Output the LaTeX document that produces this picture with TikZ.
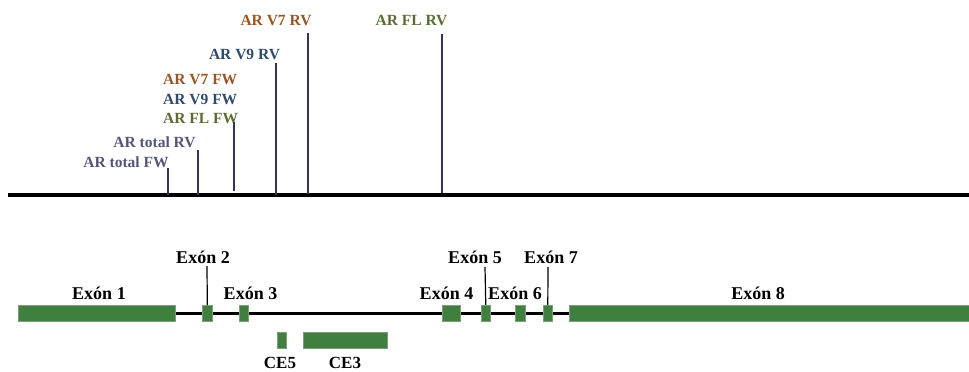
\documentclass[tikz,border=0pt]{standalone}
\usepackage{fontspec}
\setmainfont{Liberation Serif}
\definecolor{cvseven}{HTML}{9A5524}
\definecolor{cvnine}{HTML}{2F4A6A}
\definecolor{cfl}{HTML}{5A6B34}
\definecolor{ctotal}{HTML}{55557A}
\definecolor{ctick}{HTML}{34345A}
\definecolor{exfill}{HTML}{3F803F}
\definecolor{exedge}{HTML}{7E9E7E}
\begin{document}
\begin{tikzpicture}[x=1pt,y=-1pt,
  primer/.style={inner sep=0pt,font=\fontsize{15.5}{15.5}\selectfont\bfseries},
  exlabel/.style={inner sep=0pt,font=\fontsize{18}{18}\selectfont\bfseries},
  celabel/.style={inner sep=0pt,font=\fontsize{17}{17}\selectfont\bfseries},
  tick/.style={draw=ctick,line width=1.5pt},
  extick/.style={draw=black,line width=1.2pt},
  exonbox/.style={draw=exedge,line width=0.6pt,fill=exfill}]
\useasboundingbox (0,0) rectangle (969,372);
% top axis
\coordinate (axL) at (8,195);
\coordinate (axR) at (969,195);
\draw[line width=4pt] (axL) -- (axR);
% primer labels
\node[primer,text=ctotal] (tfw) at (126,162) {AR total FW};
\node[primer,text=ctotal] (trv) at (154.5,142) {AR total RV};
\node[primer,text=cfl,anchor=west] (flfw) at (163,118) {AR FL FW};
\node[primer,text=cvnine,anchor=west] (v9fw) at (163,99) {AR V9 FW};
\node[primer,text=cvseven,anchor=west] (v7fw) at (163,80) {AR V7 FW};
\node[primer,text=cvnine] (v9rv) at (244.5,54) {AR V9 RV};
\node[primer,text=cvseven] (v7rv) at (276,21) {AR V7 RV};
\node[primer,text=cfl] (flrv) at (411.5,21) {AR FL RV};
% primer ticks
\coordinate (t1a) at (168,168); \coordinate (t1b) at (168,195);
\coordinate (t2a) at (198,150); \coordinate (t2b) at (198,195);
\coordinate (t3a) at (234,122); \coordinate (t3b) at (234,191);
\coordinate (t4a) at (276,63);  \coordinate (t4b) at (276,195);
\coordinate (t5a) at (308,33);  \coordinate (t5b) at (308,194);
\coordinate (t6a) at (442,34);  \coordinate (t6b) at (442,193);
\foreach \i in {1,...,6} \draw[tick] (t\i a) -- (t\i b);
% gene line
\coordinate (gL) at (175,313);
\coordinate (gR) at (569,313);
\draw[line width=3pt] (gL) -- (gR);
% exons
\node[exonbox,inner sep=0,minimum width=157pt,minimum height=16pt,anchor=north west] (e1) at (18,305) {};
\node[exonbox,inner sep=0,minimum width=10pt,minimum height=16pt,anchor=north west] (e2) at (202,305) {};
\node[exonbox,inner sep=0,minimum width=9pt,minimum height=16pt,anchor=north west] (e3) at (239,305) {};
\node[exonbox,inner sep=0,minimum width=18pt,minimum height=16pt,anchor=north west] (e4) at (442,305) {};
\node[exonbox,inner sep=0,minimum width=9pt,minimum height=16pt,anchor=north west] (e5) at (481,305) {};
\node[exonbox,inner sep=0,minimum width=10pt,minimum height=16pt,anchor=north west] (e6) at (515,305) {};
\node[exonbox,inner sep=0,minimum width=9pt,minimum height=16pt,anchor=north west] (e7) at (543,305) {};
\node[exonbox,inner sep=0,minimum width=400pt,minimum height=16pt,anchor=north west] (e8) at (569,305) {};
\node[exonbox,inner sep=0,minimum width=9pt,minimum height=16pt,anchor=north west] (ce5) at (277,332) {};
\node[exonbox,inner sep=0,minimum width=84pt,minimum height=16pt,anchor=north west] (ce3) at (303,332) {};
% exon labels
\node[exlabel] (l1) at (99,293) {Exón 1};
\node[exlabel] (l2) at (203,257) {Exón 2};
\node[exlabel] (l3) at (250.5,293) {Exón 3};
\node[exlabel] (l4) at (446.5,293) {Exón 4};
\node[exlabel] (l5) at (475,257) {Exón 5};
\node[exlabel] (l6) at (515,293) {Exón 6};
\node[exlabel] (l7) at (551,257) {Exón 7};
\node[exlabel] (l8) at (758,293) {Exón 8};
\node[celabel] (lce5) at (280,363) {CE5};
\node[celabel] (lce3) at (345,363) {CE3};
% exon ticks
\coordinate (x2) at (207,266);
\coordinate (x5) at (485,267);
\coordinate (x7) at (548,267);
\draw[extick] (x2) -- (e2.north);
\draw[extick] (x5) -- (e5.north);
\draw[extick] (x7) -- (e7.north);
\end{tikzpicture}
\end{document}
